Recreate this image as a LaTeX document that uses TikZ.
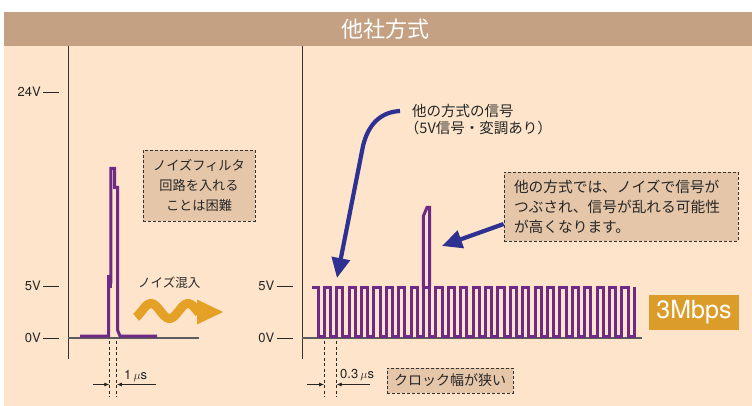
\documentclass[tikz,border=0pt]{standalone}
\usepackage{fontspec}
\setmainfont{TeX Gyre Heros}
\newfontfamily\jp{Noto Sans CJK JP}
\usetikzlibrary{arrows.meta}
\definecolor{bgpeach}{HTML}{FDE4CA}
\definecolor{titlebar}{HTML}{C4A183}
\definecolor{boxfill}{HTML}{E5C6A9}
\definecolor{sigpurple}{HTML}{6E2A85}
\definecolor{arrowblue}{HTML}{2E3192}
\definecolor{noiseorange}{HTML}{E5A126}
\definecolor{badge}{HTML}{DC9C2A}
\definecolor{axisgray}{HTML}{333333}
\begin{document}
\begin{tikzpicture}[x=1pt,y=-1pt,
  axisv/.style={draw=axisgray, line width=1pt},
  axish/.style={draw=axisgray!80, line width=1.3pt},
  ticklab/.style={inner sep=0pt, anchor=east, font=\fontsize{13}{13}\selectfont, text=black!85},
  tickdash/.style={draw=black!85, line width=0.9pt},
  sig/.style={draw=sigpurple, line width=3pt, line join=miter, line cap=butt},
  dbox/.style={draw=black!80, fill=boxfill, line width=0.8pt, dash pattern=on 3pt off 2pt},
  blueline/.style={draw=arrowblue, line width=4.2pt, -{Triangle[length=20pt,width=18pt]}},
  dimline/.style={draw=black!85, line width=0.7pt, -{Latex[length=5pt,width=4pt]}},
  guide/.style={draw=black!85, line width=0.8pt, dash pattern=on 3pt off 2.5pt},
  jptext/.style={inner sep=0pt, text=black!85}
]
\useasboundingbox (0,0) rectangle (752,406);
% background and title
\fill[bgpeach] (4,46) rectangle (752,406);
\fill[titlebar] (4,12) rectangle (752,46);
\node[inner sep=0pt, text=white, font=\jp\fontsize{22}{22}\selectfont] (title) at (385,29) {他社方式};

% ---------- left chart ----------
\draw[axisv] (68,46) -- (68,359);
\draw[axish] (68,338) -- (199,338);
\node[ticklab] (l24) at (41,92) {24V};
\draw[tickdash] (43,92) -- (59,92);
\node[ticklab] (l5) at (41,286) {5V};
\draw[tickdash] (43,286) -- (59,286);
\node[ticklab] (l0) at (41,338) {0V};
\draw[tickdash] (43,338) -- (59,338);

\fill[sigpurple] (107,275) rectangle (111.5,288);
\draw[sig] (80,336) -- (108.5,336) -- (108.5,282) -- (110.8,282) -- (110.8,168.5) -- (114.5,168.5) -- (114.5,187.5) -- (117.5,187.5) -- (117.5,330) -- (120,336) -- (157,336);

\coordinate (la) at (109.3,341);
\coordinate (lb) at (116.8,341);
\draw[guide] (la) -- ++(0,56);
\draw[guide] (lb) -- ++(0,56);
\draw[dimline] (93,384.5) -- (la |- 0,384.5);
\draw[dimline] (156,384.5) -- (lb |- 0,384.5);
\node[inner sep=0pt, anchor=west, font=\fontsize{13}{13}\selectfont, text=black!85] (us1) at (124,376) {1\,$\mu$s};

\node[dbox, minimum width=112pt, minimum height=71pt, align=center, inner sep=0pt,
      font=\jp\fontsize{13.2}{20}\selectfont, text=black!85] (filter) at (199,185.5)
      {ノイズフィルタ\\回路を入れる\\ことは困難};

% noise arrow
\node[jptext, anchor=west, font=\jp\fontsize{12.5}{12.5}\selectfont] (noise) at (138,283) {ノイズ混入};
\draw[noiseorange, line width=9pt] plot[domain=136:199, samples=60, smooth] (\x, {311-7.5*cos(9.7297*(\x-151))});
\fill[noiseorange] (197,299.5) -- (223,312) -- (197,324.5) -- cycle;

% ---------- right chart ----------
\draw[axisv] (302,46) -- (302,359);
\draw[axish] (302,338) -- (642,338);
\node[ticklab] (r5) at (274.5,286) {5V};
\draw[tickdash] (276.5,286) -- (293,286);
\node[ticklab] (r0) at (274.5,338) {0V};
\draw[tickdash] (276.5,338) -- (293,338);

\draw[sig] (312,287) foreach \k in {0,...,25} {
  -- ({318+12.4*\k},287) -- ({318+12.4*\k},336) -- ({324.2+12.4*\k},336) -- ({324.2+12.4*\k},287)};
\draw[sig] (423.4,287) -- (423.4,216) -- (427,207.5) -- (429.6,207.5) -- (429.6,287);

\coordinate (ra) at (324.2,341);
\coordinate (rb) at (336.6,341);
\draw[guide] (ra) -- ++(0,56);
\draw[guide] (rb) -- ++(0,56);
\draw[dimline] (307,384.5) -- (ra |- 0,384.5);
\draw[dimline] (370,384.5) -- (rb |- 0,384.5);
\node[inner sep=0pt, anchor=west, font=\fontsize{13}{13}\selectfont, text=black!85] (us2) at (340,375) {0.3\,$\mu$s};

\node[dbox, minimum width=126pt, minimum height=25pt, inner sep=0pt,
      font=\jp\fontsize{14}{14}\selectfont, text=black!85] (clock) at (450,380.5) {クロック幅が狭い};

% callout 1
\node[jptext, anchor=west, font=\jp\fontsize{14.5}{14.5}\selectfont] (sig1) at (412,111) {他の方式の信号};
\node[jptext, anchor=west, font=\jp\fontsize{14.5}{14.5}\selectfont] (sig2) at (412,128) {\kern-0.5em（5V信号・変調あり）};
\coordinate (a1tip) at (337,278);
\draw[blueline] ([xshift=-12pt]sig1.west) .. controls (380,112) and (368,125) .. (363,146) -- (a1tip);

% callout 2
\node[dbox, minimum width=234pt, minimum height=69pt, text width=214pt, inner xsep=10pt, inner ysep=0pt,
      align=left, font=\jp\fontsize{14.7}{20}\selectfont, text=black!85] (risk) at (621,206.5)
      {他の方式では、ノイズで信号が\\つぶされ、信号が乱れる可能性\\が高くなります。};
\coordinate (a2tip) at (442,246);
\draw[blueline] ([yshift=-17.5pt]risk.west) -- (a2tip);

% badge
\node[fill=badge, text=white, minimum width=90pt, minimum height=35pt, inner sep=0pt,
      font=\fontsize{25}{25}\selectfont] (rate) at (694,312.5) {3Mbps};
\end{tikzpicture}
\end{document}
